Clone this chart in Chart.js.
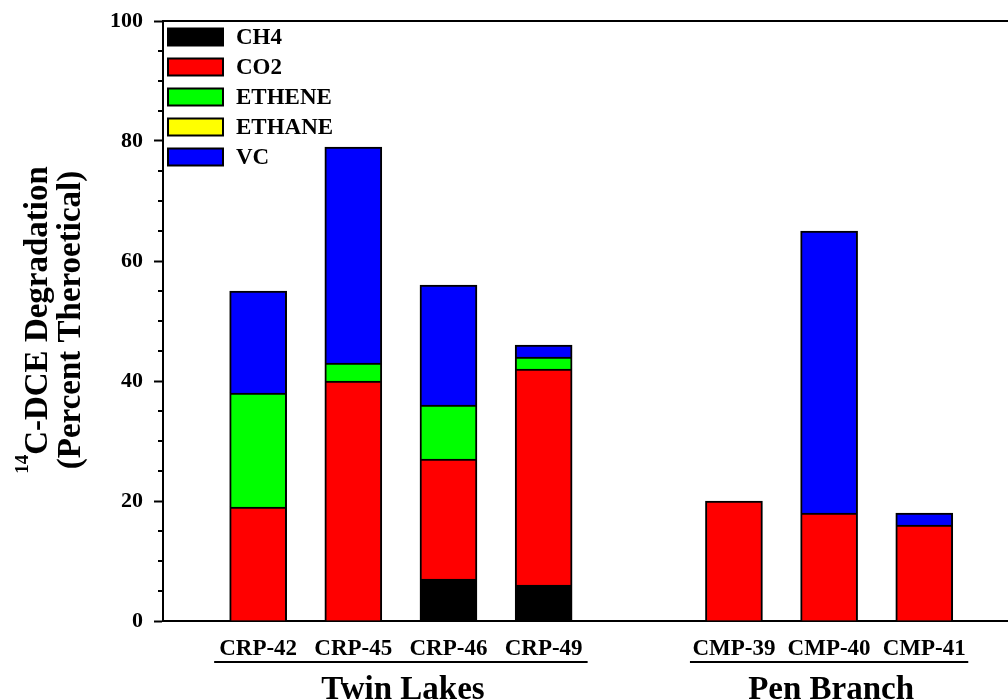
<!DOCTYPE html>
<html>
<head>
<meta charset="utf-8">
<script src="https://cdn.jsdelivr.net/npm/chart.js@4.4.0/dist/chart.umd.min.js"></script>
<style>
  html, body { margin: 0; padding: 0; background: #fff; }
  #wrap { width: 1008px; height: 700px; position: relative; }
</style>
</head>
<body>
<div id="wrap"><canvas id="bar-chart"></canvas></div>
<script>
// Chart data
var sites = ['CRP-42', 'CRP-45', 'CRP-46', 'CRP-49', 'CMP-39', 'CMP-40', 'CMP-41'];
var siteGroups = ['Twin Lakes', 'Twin Lakes', 'Twin Lakes', 'Twin Lakes', 'Pen Branch', 'Pen Branch', 'Pen Branch'];
var ch4    = [0, 0, 7, 6, 0, 0, 0];
var co2    = [19, 40, 20, 36, 20, 18, 16];
var ethene = [19, 3, 9, 2, 0, 0, 0];
var ethane = [0, 0, 0, 0, 0, 0, 0];
var vc     = [17, 36, 20, 2, 0, 47, 2];
var yTicks = [0, 20, 40, 60, 80, 100];

var serif = '"Liberation Serif", "Times New Roman", serif';

// one empty slot between the two site groups
var slots = [];
var gap = 0;
sites.forEach(function (s, i) {
    if (i > 0 && siteGroups[i] !== siteGroups[i - 1]) gap++;
    slots.push(i + 1 + gap);
});

function toPoints(vals) {
    return vals.map(function (v, i) {
        return { x: slots[i], y: v === 0 ? null : v };
    });
}

function dataset(label, vals, color) {
    return {
        label: label,
        data: toPoints(vals),
        backgroundColor: color,
        borderColor: '#000',
        borderWidth: 2,
        borderSkipped: 'start',
        barThickness: 57
    };
}

var chartData = {
    datasets: [
        dataset('CH4', ch4, '#000000'),
        dataset('CO2', co2, '#ff0000'),
        dataset('ETHENE', ethene, '#00ff00'),
        dataset('ETHANE', ethane, '#ffff00'),
        dataset('VC', vc, '#0000ff')
    ]
};

// extra drawing: frame top, minor ticks, legend, group labels, y title
var decorations = {
    id: 'decorations',
    afterDraw: function (chart) {
        var ctx = chart.ctx;
        var area = chart.chartArea;
        var x = chart.scales.x;
        var y = chart.scales.y;
        ctx.save();

        // top frame line
        ctx.strokeStyle = '#000';
        ctx.lineWidth = 2;
        ctx.beginPath();
        ctx.moveTo(area.left - 1, area.top);
        ctx.lineTo(area.right, area.top);
        ctx.stroke();

        // minor ticks
        for (var v = 0; v <= 100; v += 5) {
            if (yTicks.indexOf(v) >= 0) continue;
            var py = y.getPixelForValue(v);
            ctx.beginPath();
            ctx.moveTo(area.left - 5, py);
            ctx.lineTo(area.left, py);
            ctx.stroke();
        }

        // legend
        ctx.font = 'bold 23px ' + serif;
        ctx.textBaseline = 'middle';
        ctx.textAlign = 'left';
        chart.data.datasets.forEach(function (ds, i) {
            var cy = 37 + i * 30;
            ctx.fillStyle = ds.backgroundColor;
            ctx.fillRect(168, cy - 8.5, 55, 17);
            ctx.strokeStyle = '#000';
            ctx.lineWidth = 2;
            ctx.strokeRect(168, cy - 8.5, 55, 17);
            ctx.fillStyle = '#000';
            ctx.fillText(ds.label, 236, cy + 1);
        });

        // group underline and name
        var groups = [];
        siteGroups.forEach(function (g, i) {
            var last = groups[groups.length - 1];
            if (!last || last.name !== g) {
                groups.push({ name: g, first: slots[i], last: slots[i] });
            } else {
                last.last = slots[i];
            }
        });
        groups.forEach(function (g) {
            var x0 = x.getPixelForValue(g.first) - 44;
            var x1 = x.getPixelForValue(g.last) + 44;
            ctx.strokeStyle = '#000';
            ctx.lineWidth = 2;
            ctx.beginPath();
            ctx.moveTo(x0, 662);
            ctx.lineTo(x1, 662);
            ctx.stroke();
            ctx.font = 'bold 33px ' + serif;
            ctx.textAlign = 'center';
            ctx.textBaseline = 'alphabetic';
            ctx.fillStyle = '#000';
            ctx.fillText(g.name, (x0 + x1) / 2 + 2, 699);
        });

        // y axis title, two lines
        ctx.translate(47, 320);
        ctx.rotate(-Math.PI / 2);
        ctx.textBaseline = 'alphabetic';
        ctx.textAlign = 'left';
        ctx.font = 'bold 19px ' + serif;
        var w1 = ctx.measureText('14').width;
        ctx.font = 'bold 33px ' + serif;
        var w2 = ctx.measureText('C-DCE Degradation').width;
        var start = -(w1 + w2) / 2;
        ctx.font = 'bold 19px ' + serif;
        ctx.fillText('14', start, -19);
        ctx.font = 'bold 33px ' + serif;
        ctx.fillText('C-DCE Degradation', start + w1, 0);
        ctx.textAlign = 'center';
        ctx.fillText('(Percent Theroetical)', 0, 33);

        ctx.restore();
    }
};

var chartOptions = {
    responsive: true,
    maintainAspectRatio: false,
    animation: false,
    layout: { padding: { top: 21, right: 0, left: 0, bottom: 0 } },
    plugins: {
        legend: { display: false },
        tooltip: { enabled: false }
    },
    scales: {
        x: {
            type: 'linear',
            stacked: true,
            offset: false,
            min: 0,
            max: 8.88,
            afterFit: function (s) {
                s.height = 79;
                s.paddingLeft = 0;
                s.paddingRight = 0;
            },
            afterBuildTicks: function (s) {
                s.ticks = slots.map(function (v) { return { value: v }; });
            },
            grid: { display: false, drawTicks: false, offset: false },
            border: { display: true, color: '#000', width: 2 },
            ticks: {
                autoSkip: false,
                maxRotation: 0,
                padding: 14,
                color: '#000',
                font: { family: serif, size: 23, weight: 'bold' },
                callback: function (v) {
                    var i = slots.indexOf(v);
                    return i >= 0 ? sites[i] : '';
                }
            }
        },
        y: {
            stacked: true,
            min: 0,
            max: 100,
            afterFit: function (s) {
                s.width = 163;
                s.paddingTop = 0;
                s.paddingBottom = 0;
            },
            grid: {
                display: true,
                drawOnChartArea: false,
                drawTicks: true,
                tickLength: 9,
                tickWidth: 2,
                tickColor: function (c) {
                    return yTicks.indexOf(c.tick.value) >= 0 ? '#000' : 'rgba(0,0,0,0)';
                }
            },
            border: { display: true, color: '#000', width: 2 },
            ticks: {
                stepSize: 5,
                autoSkip: false,
                padding: 11,
                color: '#000',
                font: { family: serif, size: 22, weight: 'bold' },
                callback: function (v) {
                    return yTicks.indexOf(v) >= 0 ? v : '';
                }
            }
        }
    }
};

var ctx = document.getElementById('bar-chart');
var barChart = new Chart(ctx, {
    type: 'bar',
    data: chartData,
    options: chartOptions,
    plugins: [decorations]
});
</script>
</body>
</html>
